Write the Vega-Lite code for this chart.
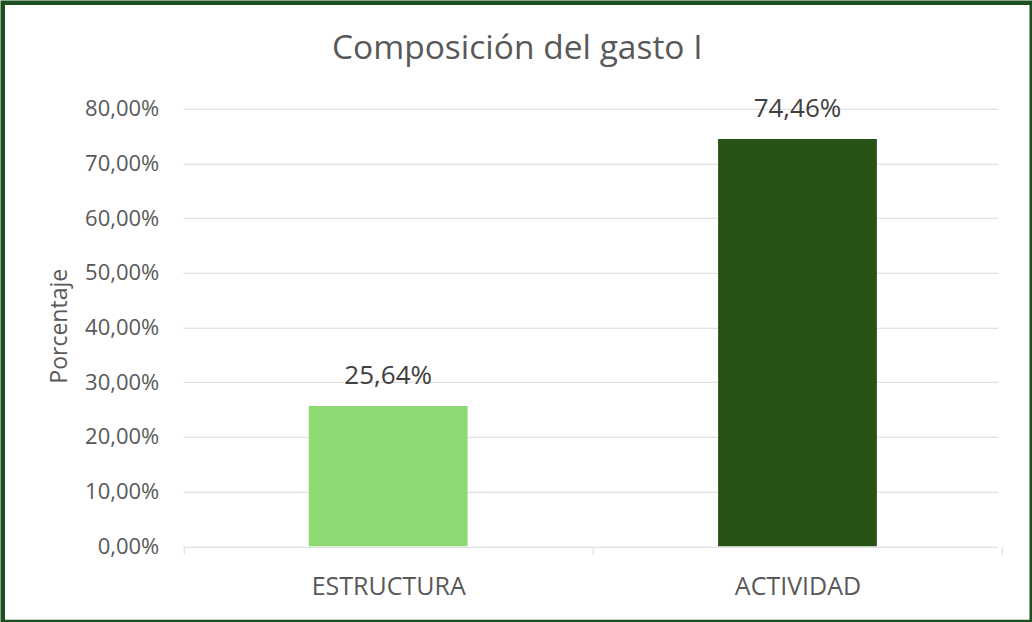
{
  "$schema": "https://vega.github.io/schema/vega-lite/v6.json",
  "width": 1032,
  "height": 622,
  "autosize": {"type": "fit", "contains": "padding"},
  "padding": {"left": 2.75, "top": 2.75, "right": 0.25, "bottom": 0},
  "background": "white",
  "title": {
    "text": "Composición del gasto I",
    "orient": "top",
    "anchor": "middle",
    "frame": "group",
    "baseline": "alphabetic",
    "offset": -90,
    "font": "Open Sans",
    "fontSize": 33.5,
    "fontWeight": "normal",
    "color": "#595959"
  },
  "config": {
    "locale": {"number": {"decimal": ",", "thousands": ".", "grouping": [3], "currency": ["", " €"]}},
    "view": {"stroke": "#1B5020", "strokeWidth": 4.5, "fill": "white"},
    "font": "Open Sans"
  },
  "data": {
    "values": [
      {"categoria": "ESTRUCTURA", "porcentaje": 0.2564},
      {"categoria": "ACTIVIDAD", "porcentaje": 0.7446}
    ]
  },
  "encoding": {
    "x": {
      "field": "categoria",
      "type": "nominal",
      "sort": ["ESTRUCTURA", "ACTIVIDAD"],
      "scale": {"paddingInner": 0, "paddingOuter": 0.25706, "align": 0.8592},
      "axis": {
        "title": null,
        "orient": "bottom",
        "offset": -75.5,
        "domain": false,
        "grid": false,
        "tickBand": "extent",
        "tickExtra": true,
        "ticks": true,
        "tickSize": 8,
        "tickColor": "#D9D9D9",
        "tickWidth": 1,
        "labelAngle": 0,
        "labelFont": "Open Sans",
        "labelFontSize": 25,
        "labelColor": "#595959",
        "labelPadding": 19.5,
        "labelBaseline": "top",
        "zindex": 0
      }
    },
    "y": {
      "field": "porcentaje",
      "type": "quantitative",
      "scale": {"domain": [-0.1385, 0.9938], "nice": false, "zero": false},
      "axis": {
        "title": "Porcentaje",
        "orient": "left",
        "offset": -995,
        "values": [0, 0.1, 0.2, 0.3, 0.4, 0.5, 0.6, 0.7, 0.8],
        "format": ".2%",
        "domain": false,
        "grid": false,
        "ticks": true,
        "tickSize": 815,
        "tickColor": "#D9D9D9",
        "tickWidth": 1.2,
        "labelFont": "Open Sans",
        "labelFontSize": 22,
        "labelColor": "#595959",
        "labelPadding": 24,
        "labelAlign": "right",
        "labelBaseline": "middle",
        "titleFont": "Open Sans",
        "titleFontSize": 23,
        "titleFontWeight": "normal",
        "titleColor": "#595959",
        "titleAngle": 270,
        "titleAlign": "center",
        "titleBaseline": "alphabetic",
        "titleX": -931.7,
        "titleY": 323,
        "zindex": 0
      }
    }
  },
  "layer": [
    {
      "mark": {"type": "bar", "width": {"band": 0.388}},
      "encoding": {
        "color": {
          "field": "categoria",
          "type": "nominal",
          "scale": {"domain": ["ESTRUCTURA", "ACTIVIDAD"], "range": ["#8ED973", "#275317"]},
          "legend": null
        }
      }
    },
    {
      "mark": {"type": "text", "baseline": "alphabetic", "align": "center", "dy": -22.5, "font": "Open Sans", "fontSize": 26, "color": "#404040"},
      "encoding": {
        "text": {"field": "porcentaje", "type": "quantitative", "format": ".2%"}
      }
    }
  ]
}
